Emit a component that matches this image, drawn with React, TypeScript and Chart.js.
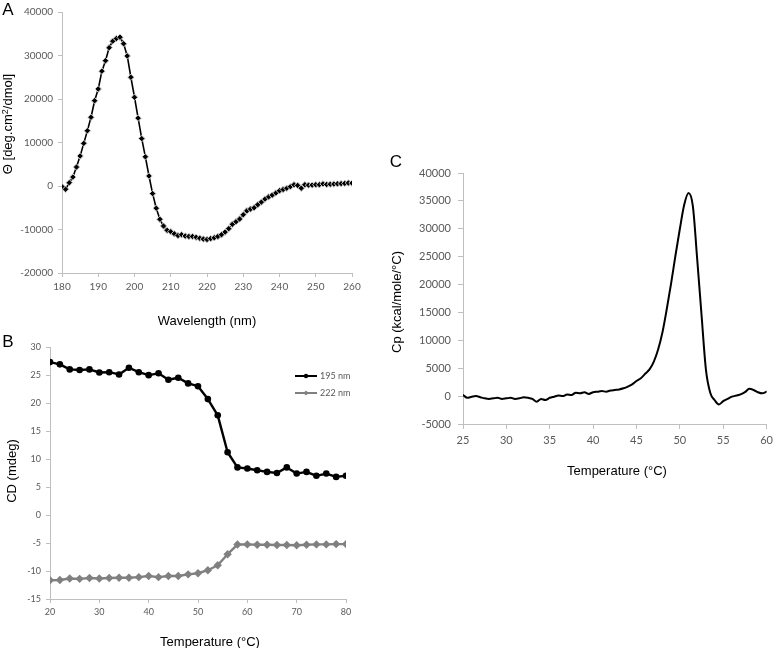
import React, { useEffect, useRef } from "react";
import { Chart, registerables } from "chart.js";

Chart.register(...registerables);

// ---------- Panel A: CD spectrum ----------
const aWavelength = [
  180, 181, 182, 183, 184, 185, 186, 187, 188, 189, 190, 191, 192, 193, 194, 195, 196, 197, 198, 199,
  200, 201, 202, 203, 204, 205, 206, 207, 208, 209, 210, 211, 212, 213, 214, 215, 216, 217, 218, 219,
  220, 221, 222, 223, 224, 225, 226, 227, 228, 229, 230, 231, 232, 233, 234, 235, 236, 237, 238, 239,
  240, 241, 242, 243, 244, 245, 246, 247, 248, 249, 250, 251, 252, 253, 254, 255, 256, 257, 258, 259, 260,
];
const aTheta = [
  -150, -750, 750, 2050, 4350, 6900, 9800, 12700, 15800, 19600, 22300, 26400, 28800, 31800, 33300, 33900, 34200, 32700, 29900, 25000,
  20400, 15600, 10900, 6700, 2300, -1750, -5100, -7650, -9200, -10200, -10500, -11000, -11400, -11200, -11500, -11600, -11600, -11800, -12000, -12200,
  -12300, -12100, -11900, -11600, -11200, -10600, -9800, -8800, -8200, -7600, -6600, -5700, -5300, -5000, -4300, -3700, -3000, -2500, -2100, -1600,
  -1100, -800, -500, -150, 300, 150, -500, 300, 200, 200, 300, 300, 500, 350, 400, 450, 500, 550, 600, 700, 650,
];

// ---------- Panel B: thermal melt by CD ----------
const bTemp = [20, 22, 24, 26, 28, 30, 32, 34, 36, 38, 40, 42, 44, 46, 48, 50, 52, 54, 56, 58, 60, 62, 64, 66, 68, 70, 72, 74, 76, 78, 80];
const b195 = [27.3, 26.9, 26.0, 25.9, 26.0, 25.45, 25.5, 25.1, 26.3, 25.5, 24.97, 25.3, 24.15, 24.5, 23.5, 23.0, 20.7, 17.8, 11.2, 8.5, 8.3, 8.0, 7.7, 7.5, 8.5, 7.4, 7.7, 7.0, 7.4, 6.8, 7.0];
const b222 = [-11.65, -11.6, -11.35, -11.4, -11.25, -11.35, -11.25, -11.2, -11.2, -11.1, -10.9, -11.1, -10.9, -10.9, -10.6, -10.4, -9.86, -8.97, -7.0, -5.28, -5.25, -5.3, -5.3, -5.35, -5.35, -5.4, -5.3, -5.25, -5.25, -5.2, -5.2];
const bSeriesNames = ["195 nm", "222 nm"];

// ---------- Panel C: DSC thermogram ----------
const cTemp = [
  25.0, 25.5, 26.0, 26.5, 27.0, 27.5, 28.0, 28.5, 29.0, 29.5, 30.0, 30.5, 31.0, 31.5, 32.0, 32.5, 33.0, 33.5, 34.0, 34.5,
  35.0, 35.5, 36.0, 36.5, 37.0, 37.5, 38.0, 38.5, 39.0, 39.5, 40.0, 40.5, 41.0, 41.5, 42.0, 42.5, 43.0, 43.5, 44.0, 44.5,
  45.0, 45.5, 46.0, 46.5, 47.0, 47.5, 48.0, 48.5, 49.0, 49.5, 50.0, 50.5, 51.0, 51.5, 52.0, 52.5, 53.0, 53.5, 54.0, 54.5,
  55.0, 55.5, 56.0, 56.5, 57.0, 57.5, 58.0, 58.5, 59.0, 59.5, 60.0,
];
const cCp = [
  200, -300, -100, 0, -200, -400, -500, -400, -300, -500, -400, -300, -500, -400, -200, -300, -500, -1000, -500, -700,
  -300, -100, 100, 0, 300, 200, 600, 500, 700, 400, 700, 800, 900, 800, 1000, 1100, 1200, 1400, 1700, 2100,
  2700, 3200, 4000, 4800, 6200, 8400, 11500, 15700, 20300, 25300, 30000, 34300, 36400, 34000, 24500, 14500, 4800, 600, -700, -1500,
  -900, -500, -100, 100, 300, 700, 1300, 1100, 700, 500, 800,
];

// ---------- helpers ----------
const AXIS = "#bfbfbf";
const TICK = "#595959";
const TICK_FONT = "Lato, 'Liberation Sans', sans-serif";
const TITLE_FONT = "'Liberation Sans', Arial, sans-serif";

type Range = { min: number; max: number; step: number };

function makeOptions(p: {
  padding: { left: number; right: number; top: number; bottom: number };
  yWidth: number;
  xHeight: number;
  x: Range;
  y: Range;
  fontSize: number;
  tickLen: number;
  yPad: number;
  xPad: number;
}) {
  const font = { family: TICK_FONT, size: p.fontSize };
  const grid = {
    display: true,
    drawOnChartArea: false,
    drawTicks: true,
    tickLength: p.tickLen,
    color: AXIS,
    lineWidth: 1,
  };
  const plain = (v: any) => String(v);
  return {
    responsive: false,
    animation: false as const,
    layout: { padding: p.padding },
    plugins: { legend: { display: false }, tooltip: { enabled: false } },
    elements: { line: { borderCapStyle: "round" as const, borderJoinStyle: "round" as const } },
    scales: {
      x: {
        type: "linear" as const,
        min: p.x.min,
        max: p.x.max,
        border: { display: true, color: AXIS, width: 1 },
        grid,
        ticks: { stepSize: p.x.step, color: TICK, font, padding: p.xPad, maxRotation: 0, callback: plain },
        afterFit: (s: any) => {
          s.height = p.xHeight;
        },
      },
      y: {
        type: "linear" as const,
        min: p.y.min,
        max: p.y.max,
        border: { display: true, color: AXIS, width: 1 },
        grid,
        ticks: { stepSize: p.y.step, color: TICK, font, padding: p.yPad, callback: plain },
        afterFit: (s: any) => {
          s.width = p.yWidth;
        },
      },
    },
  };
}

const inlineLegend = {
  id: "inlineLegend",
  afterDraw(chart: any, _args: any, opts: any) {
    if (!opts || !opts.rows) return;
    const ctx = chart.ctx as CanvasRenderingContext2D;
    chart.data.datasets.forEach((ds: any, i: number) => {
      const y = opts.rows[i];
      const x0 = opts.x0;
      const x1 = opts.x1;
      const xm = (x0 + x1) / 2;
      ctx.save();
      ctx.strokeStyle = ds.borderColor;
      ctx.lineWidth = 2;
      ctx.beginPath();
      ctx.moveTo(x0, y);
      ctx.lineTo(x1, y);
      ctx.stroke();
      ctx.fillStyle = ds.pointBackgroundColor;
      ctx.beginPath();
      if (ds.pointStyle === "rectRot") {
        const r = 2.6;
        ctx.moveTo(xm, y - r);
        ctx.lineTo(xm + r, y);
        ctx.lineTo(xm, y + r);
        ctx.lineTo(xm - r, y);
        ctx.closePath();
      } else {
        ctx.arc(xm, y, 2.2, 0, Math.PI * 2);
      }
      ctx.fill();
      ctx.fillStyle = TICK;
      ctx.font = `9px ${TICK_FONT}`;
      ctx.textBaseline = "middle";
      ctx.textAlign = "left";
      ctx.fillText(ds.label, opts.textX, y);
      ctx.restore();
    });
  },
};

function ChartBox(props: { left: number; top: number; width: number; height: number; config: any }) {
  const ref = useRef<HTMLCanvasElement>(null);
  useEffect(() => {
    const chart = new Chart(ref.current as HTMLCanvasElement, props.config);
    return () => chart.destroy();
  }, []);
  const { left, top, width, height } = props;
  return (
    <div style={{ position: "absolute", left, top, width, height }}>
      <canvas ref={ref} width={width} height={height} style={{ width, height, display: "block" }} />
    </div>
  );
}

function Label(props: { x: number; y: number; text: React.ReactNode; size?: number; rotate?: boolean; color?: string }) {
  return (
    <div
      style={{
        position: "absolute",
        left: props.x,
        top: props.y,
        transform: `translate(-50%, -50%)${props.rotate ? " rotate(-90deg)" : ""}`,
        whiteSpace: "nowrap",
        fontFamily: TITLE_FONT,
        fontSize: props.size ?? 13,
        lineHeight: 1,
        color: props.color ?? "#000",
      }}
    >
      {props.text}
    </div>
  );
}

export default function App() {
  const configA = {
    type: "line",
    data: {
      datasets: [
        {
          data: aWavelength.map((w, i) => ({ x: w, y: aTheta[i] })),
          borderColor: "#000",
          borderWidth: 1.6,
          pointStyle: "rectRot",
          pointRadius: 3.2,
          pointBackgroundColor: "#000",
          pointBorderColor: "#c8c8c8",
          pointBorderWidth: 1,
          tension: 0,
        },
      ],
    },
    options: makeOptions({
      padding: { left: 0, right: 18, top: 12, bottom: 0 },
      yWidth: 62,
      xHeight: 27,
      x: { min: 180, max: 260, step: 10 },
      y: { min: -20000, max: 40000, step: 10000 },
      fontSize: 10,
      tickLen: 4,
      yPad: 5,
      xPad: 4,
    }),
  };

  const configB = {
    type: "line",
    data: {
      datasets: [
        {
          label: bSeriesNames[0],
          data: bTemp.map((t, i) => ({ x: t, y: b195[i] })),
          borderColor: "#000",
          borderWidth: 2.4,
          pointStyle: "circle",
          pointRadius: 3.3,
          pointBackgroundColor: "#000",
          pointBorderColor: "#000",
          pointBorderWidth: 0,
          tension: 0,
        },
        {
          label: bSeriesNames[1],
          data: bTemp.map((t, i) => ({ x: t, y: b222[i] })),
          borderColor: "#808080",
          borderWidth: 2.4,
          pointStyle: "rectRot",
          pointRadius: 4.2,
          pointBackgroundColor: "#808080",
          pointBorderColor: "#808080",
          pointBorderWidth: 0,
          tension: 0,
        },
      ],
    },
    options: (() => {
      const o: any = makeOptions({
        padding: { left: 0, right: 24, top: 27, bottom: 0 },
        yWidth: 50,
        xHeight: 49,
        x: { min: 20, max: 80, step: 10 },
        y: { min: -15, max: 30, step: 5 },
        fontSize: 9,
        tickLen: 4,
        yPad: 5,
        xPad: 4,
      });
      o.plugins.inlineLegend = { rows: [56, 73], x0: 295, x1: 317, textX: 320 };
      return o;
    })(),
    plugins: [inlineLegend],
  };

  const configC = {
    type: "line",
    data: {
      datasets: [
        {
          data: cTemp.map((t, i) => ({ x: t, y: cCp[i] })),
          borderColor: "#000",
          borderWidth: 2,
          pointRadius: 0,
          tension: 0.35,
          cubicInterpolationMode: "monotone",
        },
      ],
    },
    options: makeOptions({
      padding: { left: 0, right: 7, top: 23, bottom: 0 },
      yWidth: 93,
      xHeight: 66,
      x: { min: 25, max: 60, step: 5 },
      y: { min: -5000, max: 40000, step: 5000 },
      fontSize: 11,
      tickLen: 5,
      yPad: 7,
      xPad: 5,
    }),
  };

  return (
    <div style={{ position: "absolute", left: 0, top: 0, width: 778, height: 648, background: "#fff", overflow: "hidden" }}>
      <ChartBox left={0} top={0} width={370} height={300} config={configA} />
      <ChartBox left={0} top={320} width={370} height={328} config={configB} />
      <ChartBox left={370} top={150} width={408} height={340} config={configC} />

      <Label x={8} y={9} text="A" size={17} />
      <Label x={8} y={341} text="B" size={17} />
      <Label x={396} y={161} text="C" size={17} />

      <Label x={7} y={124} rotate text={<span>Θ [deg.cm<sup style={{ fontSize: 9, verticalAlign: "4px", lineHeight: 0 }}>2</sup>/dmol]</span>} />
      <Label x={207} y={320} text="Wavelength (nm)" />

      <Label x={11} y={471} rotate text="CD (mdeg)" />
      <Label x={210} y={641} text="Temperature (°C)" />

      <Label x={396} y={302} rotate text="Cp (kcal/mole/°C)" />
      <Label x={617} y={470} text="Temperature (°C)" />
    </div>
  );
}
